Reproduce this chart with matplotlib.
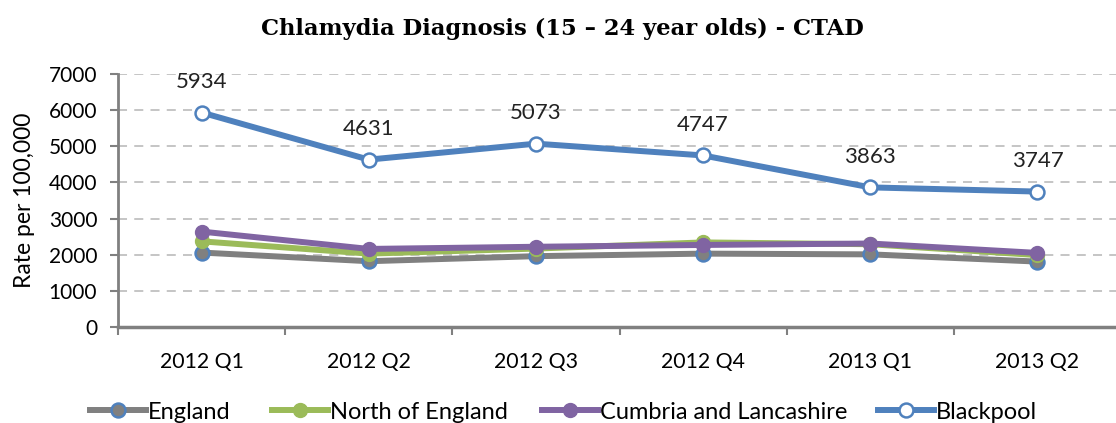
import matplotlib
matplotlib.use("Agg")
import matplotlib.pyplot as plt
from matplotlib.lines import Line2D

categories = ["2012 Q1", "2012 Q2", "2012 Q3", "2012 Q4", "2013 Q1", "2013 Q2"]
england = [2060, 1820, 1960, 2030, 2010, 1810]
north_england = [2370, 2030, 2170, 2340, 2290, 1990]
cumbria_lancs = [2640, 2160, 2220, 2270, 2310, 2050]
blackpool = [5934, 4631, 5073, 4747, 3863, 3747]
yticks = [0, 1000, 2000, 3000, 4000, 5000, 6000, 7000]
series_names = ["England", "North of England", "Cumbria and Lancashire", "Blackpool"]

GRAY = "#808080"
BLUE = "#4F81BD"
GREEN = "#9BBB59"
PURPLE = "#8064A2"
FONT = ["Lato", "DejaVu Sans"]
LEG_SIZE = 17

fig = plt.figure(figsize=(11.16, 4.23), dpi=100)
ax = fig.add_axes([118/1116, (423-327)/423, (1121-118)/1116, (327-74)/423])

x = list(range(len(categories)))
lw = 4.3
ms = 10
ax.plot(x, england, color=GRAY, lw=lw, marker="o", ms=ms, mfc=GRAY, mec=BLUE, mew=1.8, zorder=3)
ax.plot(x, north_england, color=GREEN, lw=lw, marker="o", ms=ms, mfc=GREEN, mec=GREEN, zorder=4)
ax.plot(x, cumbria_lancs, color=PURPLE, lw=lw, marker="o", ms=ms, mfc=PURPLE, mec=PURPLE, zorder=5)
ax.plot(x, blackpool, color=BLUE, lw=lw, marker="o", ms=ms, mfc="white", mec=BLUE, mew=1.8, zorder=6)

for xi, v in zip(x, blackpool):
    ax.annotate(f"{v}", (xi, v), xytext=(0, 15), textcoords="offset points",
                ha="center", va="bottom", fontsize=16, family=FONT, color="#222222")

ax.set_xlim(-0.5, len(categories) - 0.5)
ax.set_ylim(0, 7000)
ax.set_yticks(yticks)
ax.set_yticklabels([str(t) for t in yticks], fontsize=15, family=FONT)
ax.set_xticks(x)
ax.set_xticklabels(categories, fontsize=15.3, family=FONT)
ax.set_xticks([i + 0.5 for i in range(-1, len(categories))], minor=True)
ax.tick_params(axis="x", which="major", length=0, pad=18)
ax.tick_params(axis="x", which="minor", length=6, width=1.5, color=GRAY)
ax.tick_params(axis="y", length=6, width=1.5, color=GRAY, pad=9)

for s in ["top", "right"]:
    ax.spines[s].set_visible(False)
ax.spines["left"].set_color(GRAY)
ax.spines["left"].set_linewidth(2)
ax.spines["bottom"].set_color(GRAY)
ax.spines["bottom"].set_linewidth(2.5)

for t in yticks[1:]:
    ax.axhline(t, color="#C0C0C0", lw=1.3, ls=(0, (5, 4)), zorder=1)

ax.set_ylabel("Rate per 100,000", fontsize=16.5, family=FONT, labelpad=10)

fig.text(0.504, 0.932, "Chlamydia Diagnosis (15 \u2013 24 year olds) - CTAD",
         ha="center", va="center", fontsize=16.3, fontweight="bold",
         family=["DejaVu Serif"])

handles = [
    Line2D([], [], color=GRAY, lw=lw, marker="o", ms=ms, mfc=GRAY, mec=BLUE, mew=1.8),
    Line2D([], [], color=GREEN, lw=lw, marker="o", ms=ms, mfc=GREEN, mec=GREEN),
    Line2D([], [], color=PURPLE, lw=lw, marker="o", ms=ms, mfc=PURPLE, mec=PURPLE),
    Line2D([], [], color=BLUE, lw=lw, marker="o", ms=ms, mfc="white", mec=BLUE, mew=1.8),
]
starts = [90, 272, 542, 878]
hl_px, pad_px = 56, 2
fs_px = LEG_SIZE * 100 / 72
for h, lab, sx in zip(handles, series_names, starts):
    fig.legend([h], [lab], loc="center left", bbox_to_anchor=(sx/1116, 11/423),
               frameon=False, handlelength=hl_px / fs_px, handletextpad=pad_px / fs_px,
               borderpad=0, borderaxespad=0,
               prop={"family": FONT, "size": LEG_SIZE})

fig.savefig("out.png", dpi=100)
